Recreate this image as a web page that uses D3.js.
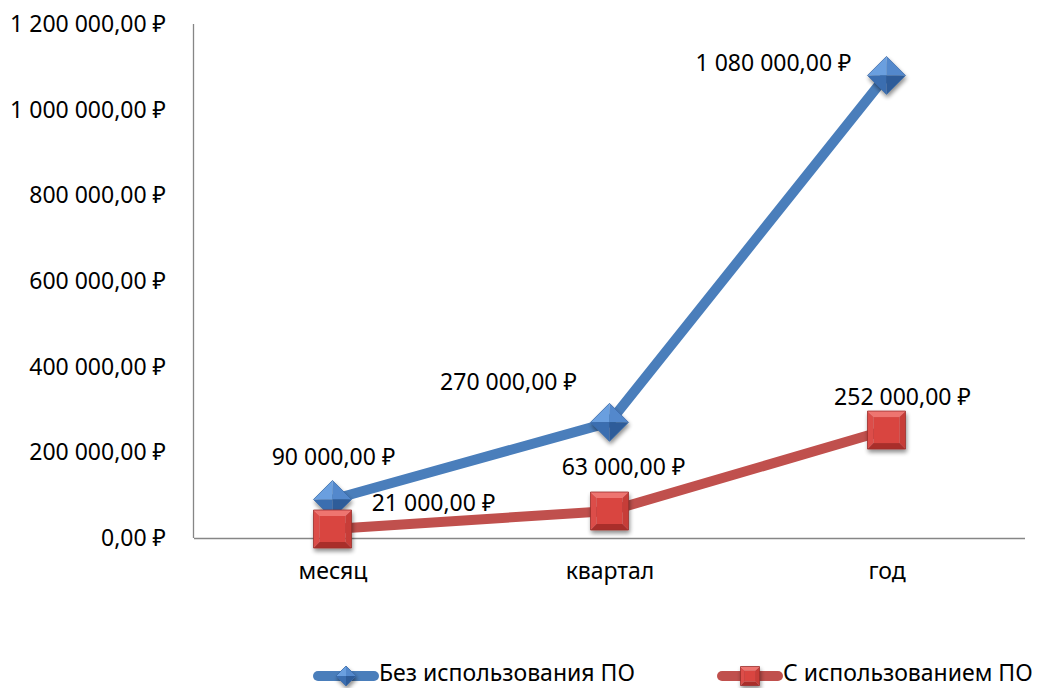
<!DOCTYPE html>
<html>
<head>
<meta charset="utf-8">
<script src="https://cdn.jsdelivr.net/npm/d3@7"></script>
<style>
  html, body { margin: 0; padding: 0; background: #ffffff; }
  svg text { font-family: "Noto Sans", "DejaVu Sans", sans-serif; fill: #000; }
</style>
</head>
<body>
<svg id="chart" width="1038" height="688"></svg>
<script>
// Расходы по периодам
const categories = ["месяц", "квартал", "год"];
const seriesNames = ["Без использования ПО", "С использованием ПО"];
const withoutSoftware = [90000, 270000, 1080000];
const withSoftware = [21000, 63000, 252000];
const yTicks = [0, 200000, 400000, 600000, 800000, 1000000, 1200000];

const rub = d3.formatLocale({
  decimal: ",",
  thousands: "\u00a0",
  grouping: [3],
  currency: ["", "\u00a0₽"]
}).format("$,.2f");

const svg = d3.select("#chart");
const plotLeft = 194, plotRight = 1025, plotTop = 24, plotBottom = 538;
const fontSize = 23;

const x = d3.scalePoint().domain(categories).range([plotLeft, plotRight]).padding(0.5);
const y = d3.scaleLinear().domain([0, 1200000]).range([plotBottom, plotTop]);

const defs = svg.append("defs");
const sh = defs.append("filter").attr("id", "shadow")
  .attr("x", "-50%").attr("y", "-50%").attr("width", "200%").attr("height", "200%");
sh.append("feGaussianBlur").attr("in", "SourceAlpha").attr("stdDeviation", 2);
sh.append("feOffset").attr("dx", 1).attr("dy", 3).attr("result", "b");
sh.append("feComponentTransfer").append("feFuncA").attr("type", "linear").attr("slope", 0.45);
const mg = sh.append("feMerge");
mg.append("feMergeNode");
mg.append("feMergeNode").attr("in", "SourceGraphic");

// axes
const yAxis = svg.append("g").attr("transform", `translate(${plotLeft},0)`)
  .call(d3.axisLeft(y).tickValues(yTicks).tickSize(0).tickPadding(28).tickFormat(rub));
const xAxis = svg.append("g").attr("transform", `translate(0,${plotBottom})`)
  .call(d3.axisBottom(x).tickSize(0).tickPadding(25));
[yAxis, xAxis].forEach(g => {
  g.select(".domain").attr("stroke", "#868686").attr("stroke-width", 1.3);
  g.selectAll("text").attr("font-size", fontSize).attr("font-family", "'Noto Sans', sans-serif").attr("fill", "#000");
});
xAxis.select(".domain").attr("d", `M${plotLeft},0.5H${plotRight}`);
yAxis.select(".domain").attr("d", `M-0.5,${plotTop}V${plotBottom}`);

const blue = { line: "#4a7ebb", faces: ["#6a9fdf", "#5288cc", "#3b6eb0", "#2d5c99"], stroke: "#3a6aa8" };
const red = { line: "#c0504d", faces: ["#ee7470", "#dc4d49", "#c73c38", "#a92f2c", "#d94541"], stroke: "#9c2f2c" };

function diamond(g, cx, cy, r, c) {
  const T = [cx, cy - r], R = [cx + r, cy], B = [cx, cy + r], L = [cx - r, cy], C = [cx, cy];
  const grp = g.append("g").attr("filter", "url(#shadow)");
  const tri = (a, b, fill) => grp.append("path").attr("d", `M${a}L${b}L${C}Z`).attr("fill", fill);
  tri(L, T, c.faces[0]);
  tri(T, R, c.faces[1]);
  tri(L, B, c.faces[2]);
  tri(B, R, c.faces[3]);
  grp.append("path").attr("d", `M${T}L${R}L${B}L${L}Z`).attr("fill", "none")
    .attr("stroke", c.stroke).attr("stroke-width", 0.8);
}

function square(g, cx, cy, s, bev, c) {
  const h = s / 2, i = h - bev;
  const o = [[cx - h, cy - h], [cx + h, cy - h], [cx + h, cy + h], [cx - h, cy + h]];
  const n = [[cx - i, cy - i], [cx + i, cy - i], [cx + i, cy + i], [cx - i, cy + i]];
  const grp = g.append("g").attr("filter", "url(#shadow)");
  const quad = (a, b, d, e, fill) => grp.append("path").attr("d", `M${a}L${b}L${d}L${e}Z`).attr("fill", fill);
  quad(o[0], o[1], n[1], n[0], c.faces[0]);
  quad(o[0], n[0], n[3], o[3], c.faces[1]);
  quad(o[1], o[2], n[2], n[1], c.faces[2]);
  quad(o[3], n[3], n[2], o[2], c.faces[3]);
  grp.append("path").attr("d", `M${n[0]}L${n[1]}L${n[2]}L${n[3]}Z`).attr("fill", c.faces[4]);
  grp.append("path").attr("d", `M${o[0]}L${o[1]}L${o[2]}L${o[3]}Z`).attr("fill", "none")
    .attr("stroke", c.stroke).attr("stroke-width", 0.8);
}

const line = d3.line().x((d, i) => x(categories[i])).y(d => y(d));

svg.append("path").datum(withoutSoftware).attr("d", line)
  .attr("fill", "none").attr("stroke", blue.line).attr("stroke-width", 10).attr("stroke-linejoin", "round");
svg.append("path").datum(withSoftware).attr("d", line)
  .attr("fill", "none").attr("stroke", red.line).attr("stroke-width", 10).attr("stroke-linejoin", "round");

const markers = svg.append("g");
withoutSoftware.forEach((v, i) => diamond(markers, x(categories[i]), y(v), 19, blue));
withSoftware.forEach((v, i) => square(markers, x(categories[i]), y(v), 38, 6, red));

// data labels, offset from their points
const blueLabelOffset = [[1, -43], [-101, -40], [-113, -12]];
const redLabelOffset = [[101, -26], [14, -44], [16, -33]];
const labels = svg.append("g").attr("font-size", fontSize).attr("text-anchor", "middle");
withoutSoftware.forEach((v, i) => labels.append("text")
  .attr("x", x(categories[i]) + blueLabelOffset[i][0])
  .attr("y", y(v) + blueLabelOffset[i][1])
  .attr("dy", "0.35em").text(rub(v)));
withSoftware.forEach((v, i) => labels.append("text")
  .attr("x", x(categories[i]) + redLabelOffset[i][0])
  .attr("y", y(v) + redLabelOffset[i][1])
  .attr("dy", "0.35em").text(rub(v)));

// legend
const legendY = 673;
const legend = svg.append("g");
const legendItems = [
  { name: seriesNames[0], x0: 318, c: blue, kind: "d" },
  { name: seriesNames[1], x0: 722, c: red, kind: "s" }
];
legendItems.forEach(it => {
  legend.append("line").attr("x1", it.x0).attr("x2", it.x0 + 56)
    .attr("y1", legendY + 3).attr("y2", legendY + 3)
    .attr("stroke", it.c.line).attr("stroke-width", 10).attr("stroke-linecap", "round");
  if (it.kind === "d") diamond(legend, it.x0 + 28, legendY + 3, 10, it.c);
  else square(legend, it.x0 + 28, legendY + 3, 19, 4, it.c);
  legend.append("text").attr("x", it.x0 + 61).attr("y", legendY).attr("dy", "0.33em")
    .attr("font-size", fontSize).text(it.name);
});
</script>
</body>
</html>
